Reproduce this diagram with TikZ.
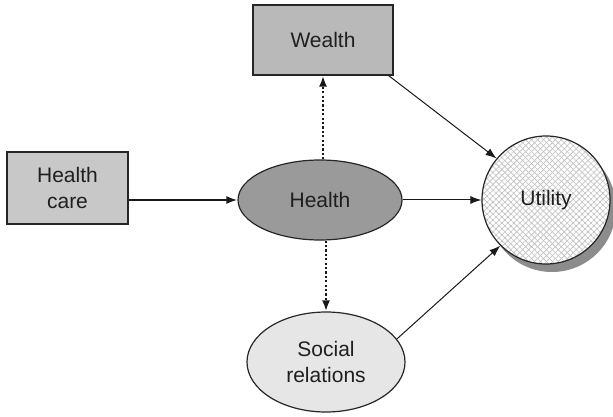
\documentclass[tikz,border=0pt]{standalone}
\usepackage{fontspec}
\setmainfont{Liberation Sans}
\usetikzlibrary{arrows.meta,patterns.meta,shapes.geometric}
\definecolor{boxgray}{HTML}{B9B9B9}
\definecolor{caregray}{HTML}{C8C8C8}
\definecolor{healthgray}{HTML}{9A9A9A}
\definecolor{socialgray}{HTML}{E6E6E6}
\definecolor{shadowgray}{HTML}{8C8C8C}
\begin{document}
\begin{tikzpicture}[x=0.5pt,y=-0.5pt,
  font=\fontsize{10.5}{13.2}\selectfont,
  every node/.style={text=black!88},
  boxnode/.style={draw=black!85,line width=0.6pt,rectangle,inner sep=0pt,align=center},
  ellnode/.style={draw=black!85,line width=0.6pt,ellipse,inner sep=0pt,align=center},
  tip/.style={-{Latex[length=5.5pt,width=4pt]}},
  thinarrow/.style={tip,line width=0.5pt,draw=black!90},
  dotarrow/.style={tip,line width=1.2pt,draw=black!90,dash pattern=on 1.1pt off 1.1pt}]
  \useasboundingbox (0,0) rectangle (613,416);
  \fill[white] (0,0) rectangle (613,416);

  % boxes
  \node[boxnode,fill=boxgray,minimum width=70pt,minimum height=35pt] (wealth) at (323,40) {Wealth};
  \node[boxnode,fill=caregray,minimum width=60.5pt,minimum height=36pt] (care) at (67.5,188) {Health\\care};

  % ellipses
  \node[ellnode,fill=healthgray,minimum width=82pt,minimum height=40pt] (health) at (320,200) {Health};
  \node[ellnode,fill=socialgray,minimum width=79pt,minimum height=50pt] (social) at (326,362) {Social\\relations};

  % utility with shadow and cross-hatching
  \fill[shadowgray] (552,208) circle (32pt);
  \fill[white] (546,200) circle (32pt);
  \fill[pattern={Lines[angle=45,distance=2.1pt,line width=0.3pt]},pattern color=black!25] (546,200) circle (32pt);
  \fill[pattern={Lines[angle=-45,distance=2.1pt,line width=0.3pt]},pattern color=black!25] (546,200) circle (32pt);
  \node[draw=black!85,line width=0.6pt,circle,minimum size=64pt,inner sep=0pt] (utility) at (546,200) {Utility};

  % connectors
  \draw[tip,line width=1pt,draw=black!90] (care.east |- health.west) -- (health.west);
  \draw[dotarrow] (health.north -| wealth.south) -- (wealth.south);
  \draw[dotarrow] (health.south -| social.north) -- (social.north);
  \draw[thinarrow] (health.east) -- (utility.west);
  \draw[thinarrow] (wealth.south east) ++(-5,0) coordinate (wse) (wse) -- (utility.140);
  \draw[thinarrow] (social.18) -- (utility.225);
\end{tikzpicture}
\end{document}
